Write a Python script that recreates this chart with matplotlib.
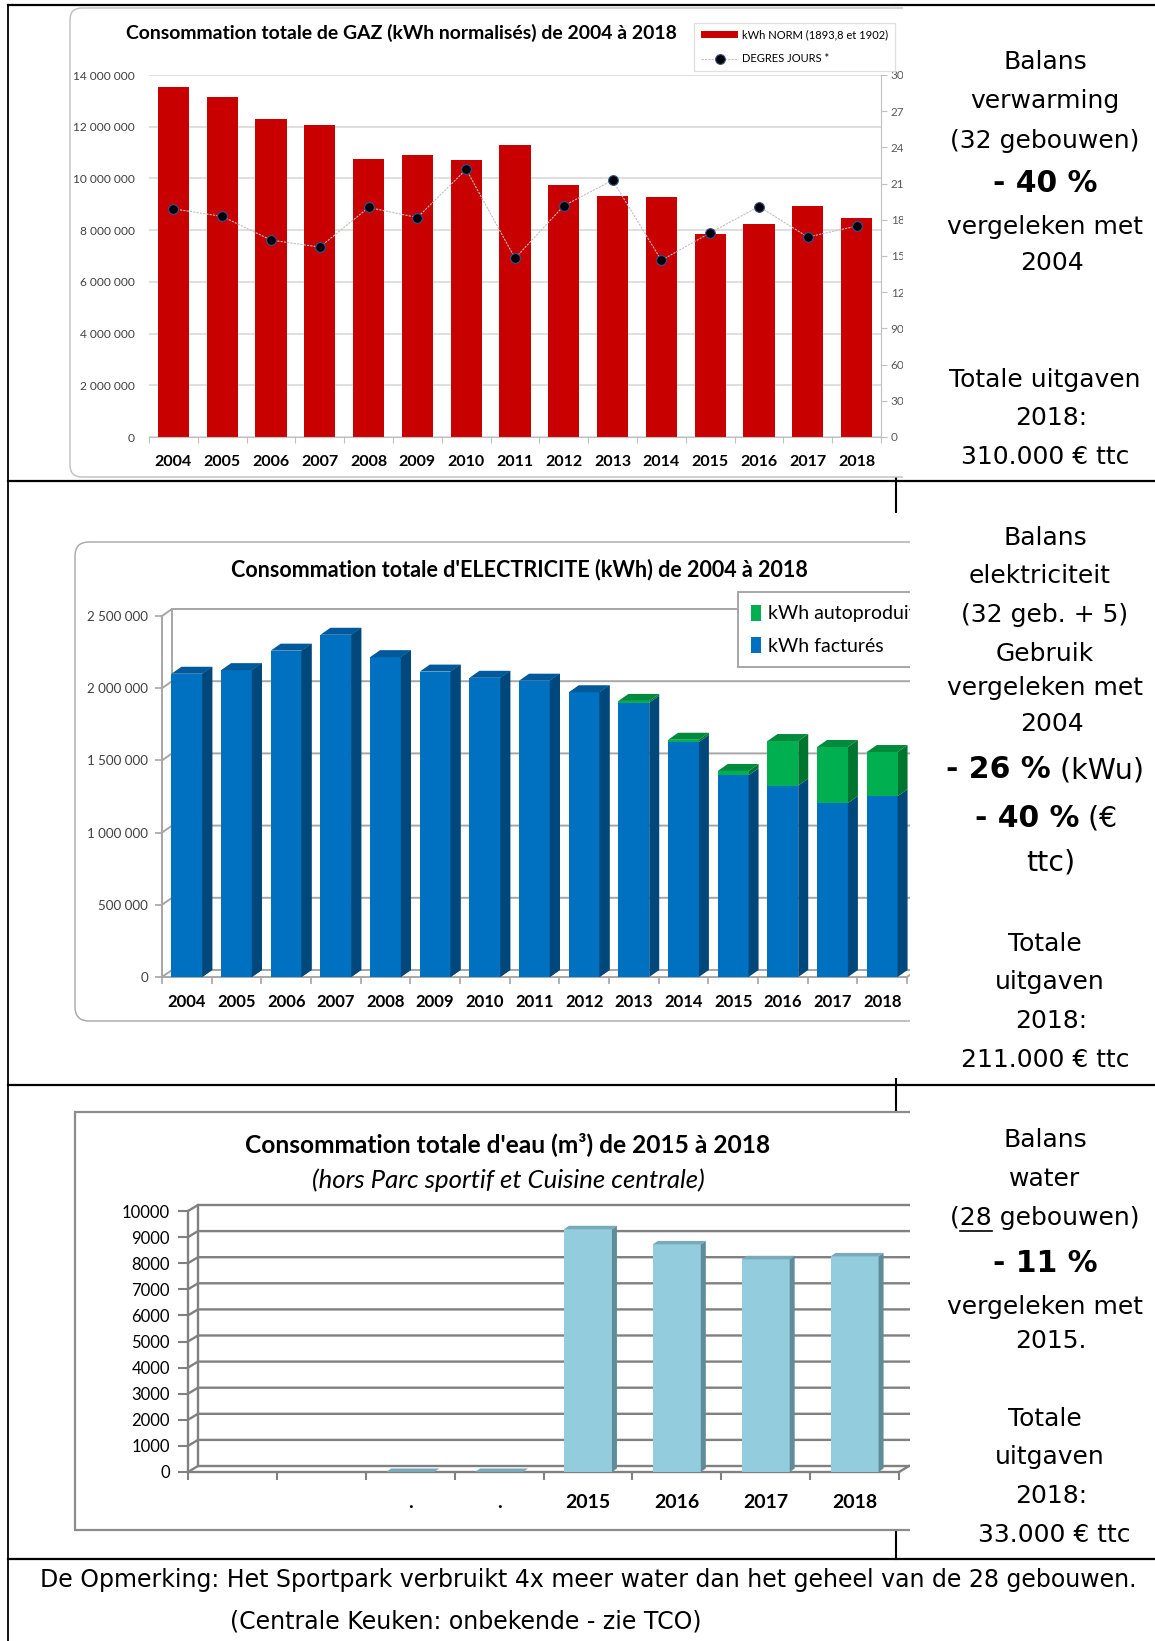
import numpy as np
import matplotlib
matplotlib.use("Agg")
import matplotlib.pyplot as plt
from matplotlib import font_manager
from matplotlib.lines import Line2D
from matplotlib.patches import FancyBboxPatch, Polygon, Rectangle
from matplotlib.transforms import Affine2D

# ---- data ------------------------------------------------------------
years = ["2004", "2005", "2006", "2007", "2008", "2009", "2010", "2011",
         "2012", "2013", "2014", "2015", "2016", "2017", "2018"]

gas_kwh = [13520000, 13150000, 12290000, 12060000, 10750000, 10900000, 10720000,
           11290000, 9760000, 9320000, 9300000, 7850000, 8230000, 8950000, 8480000]
degree_days = [1891, 1828, 1632, 1574, 1902, 1819, 2218, 1481, 1916, 2128,
               1464, 1693, 1910, 1657, 1748]
gas_ticks = [0, 2000000, 4000000, 6000000, 8000000, 10000000, 12000000, 14000000]
dj_ticks = [0, 300, 600, 900, 1200, 1500, 1800, 2100, 2400, 2700, 3000]

elec_billed = [2100000, 2125000, 2260000, 2370000, 2215000, 2115000, 2072000, 2052000,
               1972000, 1900000, 1628000, 1397000, 1326000, 1205000, 1252000]
elec_selfprod = [0, 0, 0, 0, 0, 0, 0, 0, 0, 12000, 15000, 30000, 308000, 388000, 306000]
elec_ticks = [0, 500000, 1000000, 1500000, 2000000, 2500000]

water_cats = ["", "", ".", ".", "2015", "2016", "2017", "2018"]
water_m3 = [np.nan, np.nan, 0, 0, 9300, 8720, 8150, 8260]
water_ticks = [0, 1000, 2000, 3000, 4000, 5000, 6000, 7000, 8000, 9000, 10000]

# ---- figure + pixel helpers (coords from top-left, in px) ------------
W, H = 1155, 1641
names = {f.name for f in font_manager.fontManager.ttflist}
CF = "Lato" if "Lato" in names else "DejaVu Sans"
TF = "DejaVu Sans"
plt.rcParams["font.family"] = [CF, "DejaVu Sans"]

fig = plt.figure(figsize=(W / 100, H / 100), dpi=100)
PX = Affine2D().scale(1 / W, -1 / H).translate(0, 1) + fig.transFigure
renderer = fig.canvas.get_renderer()


def px_axes(x0, y0, x1, y1):
    ax = fig.add_axes([x0 / W, 1 - y1 / H, (x1 - x0) / W, (y1 - y0) / H])
    ax.set_facecolor("none")
    return ax


def line(xs, ys, lw=1.5, color="black", z=6):
    fig.add_artist(Line2D(xs, ys, transform=PX, color=color, lw=lw, zorder=z))


def rect(x0, y0, x1, y1, **kw):
    fig.add_artist(Rectangle((x0, y0), x1 - x0, y1 - y0, transform=PX, **kw))


def txt(x, y, s, **kw):
    kw.setdefault("ha", "center")
    kw.setdefault("va", "center")
    return fig.text(x, y, s, transform=PX, **kw)


def fit(t, width):
    w = t.get_window_extent(renderer).width
    t.set_fontsize(t.get_fontsize() * width / w)
    return t


def width_of(s, **kw):
    t = fig.text(0, 0, s, **kw)
    w = t.get_window_extent(renderer).width
    t.remove()
    return w


def spaced(v):
    return f"{int(v):,}".replace(",", " ")


def faces(ax, xs, bottoms, heights, width, ddx, ddy, side, top, tops=True):
    for x, b, h in zip(xs, bottoms, heights):
        if np.isnan(h):
            continue
        x1 = x + width / 2
        x0 = x - width / 2
        ax.add_patch(Polygon([(x1, b), (x1 + ddx, b + ddy), (x1 + ddx, b + h + ddy), (x1, b + h)],
                             facecolor=side, edgecolor="none", zorder=3, clip_on=False))
        if tops:
            ax.add_patch(Polygon([(x0, b + h), (x0 + ddx, b + h + ddy), (x1 + ddx, b + h + ddy), (x1, b + h)],
                                 facecolor=top, edgecolor="none", zorder=3, clip_on=False))


def back_wall(ax, ticks, ddx, ddy, color, lw):
    xa, xb = ax.get_xlim()
    for v in ticks:
        ax.plot([xa, xa + ddx, xb + ddx], [v, v + ddy, v + ddy], color=color, lw=lw,
                zorder=1, clip_on=False, solid_joinstyle="miter")
    ax.plot([xa + ddx] * 2, [ticks[0] + ddy, ticks[-1] + ddy], color=color, lw=lw, zorder=1, clip_on=False)
    ax.plot([xb, xb + ddx], [0, ddy], color=color, lw=lw, zorder=1, clip_on=False)


# ---- table background: divider under chart images -------------------
line([896, 896], [5, 1559], lw=1.5, z=-5)
for box in [(62, 6, 903, 476), (62, 513, 910, 1078), (62, 1111, 910, 1531)]:
    rect(*box, facecolor="white", edgecolor="none", zorder=-4)

fig.add_artist(FancyBboxPatch((70, 8), 900, 469, boxstyle="round,pad=0,rounding_size=12",
                              transform=PX, facecolor="white", edgecolor="#BFBFBF", lw=1.0, zorder=-3))
fig.add_artist(FancyBboxPatch((75, 542), 900, 479, boxstyle="round,pad=0,rounding_size=14",
                              transform=PX, facecolor="white", edgecolor="#A6A6A6", lw=1.0, zorder=-3))
rect(75, 1112, 975, 1530, facecolor="white", edgecolor="#8C8C8C", lw=1.6, zorder=-3)

# ---- gas chart -------------------------------------------------------
gx = np.arange(len(years))
ax = px_axes(149, 75, 881, 437)
gas_bars = ax.bar(gx, gas_kwh, width=0.64, color="#C80000", zorder=2)
ax.set_xlim(-0.5, len(years) - 0.5)
ax.set_ylim(gas_ticks[0], gas_ticks[-1])
ax.set_yticks(gas_ticks, [spaced(v) for v in gas_ticks])
ax.yaxis.grid(True, color="#D9D9D9", lw=1.2)
ax.set_axisbelow(True)
ax.set_xticks(np.arange(-0.5, len(years)), [])
ax.set_xticks(gx, years, minor=True)
ax.tick_params(axis="x", which="major", length=4, color="#BFBFBF")
ax.tick_params(axis="x", which="minor", length=0, pad=13, labelsize=11.5)
for lbl in ax.get_xticklabels(minor=True):
    lbl.set_fontweight("bold")
ax.tick_params(axis="y", length=0, pad=10, labelsize=8.6, labelcolor="#404040")
for s in ("top", "right", "left"):
    ax.spines[s].set_visible(False)
ax.spines["bottom"].set_color("#BFBFBF")

ax2 = ax.twinx()
dj_line, = ax2.plot(gx, degree_days, color="#C0C0C0", lw=0.8, ls=(0, (2, 1)), marker="o",
                    ms=7, mfc="black", mec="#2F5597", mew=0.8, zorder=3)
ax2.set_ylim(dj_ticks[0], dj_ticks[-1])
ax2.set_yticks(dj_ticks, [str(v) for v in dj_ticks])
ax2.tick_params(axis="y", length=4, color="#BFBFBF", labelsize=8.5, labelcolor="#595959", pad=3)
for s in ("top", "left", "bottom"):
    ax2.spines[s].set_visible(False)
ax2.spines["right"].set_color("#BFBFBF")
ax2.legend([gas_bars, dj_line], ["kWh NORM (1893,8 et 1902)", "DEGRES JOURS *"],
           loc="upper left", bbox_to_anchor=(694, 23), bbox_transform=PX, fontsize=8,
           frameon=True, fancybox=False, edgecolor="#D9D9D9", handlelength=3.4,
           handleheight=0.55, handletextpad=0.3, labelspacing=1.15, borderpad=0.6, borderaxespad=0)
fit(txt(401, 33, "Consommation totale de GAZ (kWh normalisés) de 2004 à 2018",
        fontsize=12, fontweight="bold"), 548)

# ---- electricity chart -----------------------------------------------
ex = np.arange(len(years))
ax = px_axes(162, 616, 907, 977)
ax.set_xlim(-0.5, len(years) - 0.5)
ax.set_ylim(elec_ticks[0], elec_ticks[-1])
eddx = 10 * len(years) / 745
eddy = 7 * elec_ticks[-1] / 361
back_wall(ax, elec_ticks, eddx, eddy, "#A6A6A6", 1.4)
ew = 0.62
billed = ax.bar(ex, elec_billed, width=ew, color="#0070C0", zorder=3, clip_on=False)
selfp = ax.bar(ex, elec_selfprod, bottom=elec_billed, width=ew, color="#00B050", zorder=4, clip_on=False)
faces(ax, ex, [0] * len(ex), elec_billed, ew, eddx, eddy, "#00487C", "#00599A", tops=False)
has_self = np.array([v > 0 for v in elec_selfprod])
faces(ax, ex[~has_self], [0] * int((~has_self).sum()),
      [b for b, h in zip(elec_billed, has_self) if not h], ew, eddx, eddy, "#00487C", "#00599A")
faces(ax, ex[has_self], [b for b, h in zip(elec_billed, has_self) if h],
      [s for s in elec_selfprod if s > 0], ew, eddx, eddy, "#00752F", "#008A3C")
for p in ax.patches:
    p.set_clip_on(False)
ax.set_yticks(elec_ticks, [spaced(v) for v in elec_ticks])
ax.set_xticks(np.arange(-0.5, len(years)), [])
ax.set_xticks(ex, years, minor=True)
ax.tick_params(axis="x", which="major", length=5, color="#A6A6A6", width=1.2)
ax.tick_params(axis="x", which="minor", length=0, pad=12, labelsize=12)
for lbl in ax.get_xticklabels(minor=True):
    lbl.set_fontweight("bold")
ax.tick_params(axis="y", length=5, color="#A6A6A6", width=1.2, pad=5, labelsize=9.6, labelcolor="#404040")
for s in ("top", "right"):
    ax.spines[s].set_visible(False)
for s in ("left", "bottom"):
    ax.spines[s].set_color("#A6A6A6")
    ax.spines[s].set_linewidth(1.4)
ax.legend([selfp, billed], ["kWh autoproduit", "kWh facturés"], loc="upper left",
          bbox_to_anchor=(738, 592), bbox_transform=PX, fontsize=14, frameon=True,
          fancybox=False, edgecolor="#A6A6A6", framealpha=1, handlelength=0.55,
          handleheight=0.9, handletextpad=0.35, labelspacing=0.75, borderpad=0.65,
          borderaxespad=0)
ax.get_legend().get_frame().set_linewidth(1.4)
fit(txt(519, 570, "Consommation totale d'ELECTRICITE (kWh) de 2004 à 2018",
        fontsize=13, fontweight="bold"), 577)

# ---- water chart -----------------------------------------------------
wx = np.arange(len(water_cats))
ax = px_axes(188, 1211, 899, 1472)
ax.set_xlim(-0.5, len(water_cats) - 0.5)
ax.set_ylim(water_ticks[0], water_ticks[-1])
wddx = 10 * len(water_cats) / 711
wddy = 6 * water_ticks[-1] / 261
back_wall(ax, water_ticks, wddx, wddy, "#808080", 1.7)
ww = 0.54
ax.bar(wx, water_m3, width=ww, color="#93CDDD", zorder=3, clip_on=False)
faces(ax, wx, [0] * len(wx), water_m3, ww, 5 * len(water_cats) / 711,
      3.5 * water_ticks[-1] / 261, "#5F8C99", "#79AAB8")
for p in ax.patches:
    p.set_clip_on(False)
ax.set_yticks(water_ticks, [str(v) for v in water_ticks])
ax.set_xticks(np.arange(-0.5, len(water_cats)), [])
ax.set_xticks(wx, water_cats, minor=True)
ax.tick_params(axis="x", which="major", length=6, color="#808080", width=1.5)
ax.tick_params(axis="x", which="minor", length=0, pad=16, labelsize=14)
for lbl in ax.get_xticklabels(minor=True):
    lbl.set_fontweight("bold")
ax.tick_params(axis="y", length=7, color="#808080", width=1.5, pad=6, labelsize=12)
for s in ("top", "right"):
    ax.spines[s].set_visible(False)
for s in ("left", "bottom"):
    ax.spines[s].set_color("#808080")
    ax.spines[s].set_linewidth(1.7)
fit(txt(508, 1144, "Consommation totale d'eau (m³) de 2015 à 2018", fontsize=14,
        fontweight="bold"), 528)
fit(txt(508, 1180, "(hors Parc sportif et Cuisine centrale)", fontsize=13,
        fontstyle="italic"), 392)

# ---- right column covers + table lines -------------------------------
rect(903, 6, 1155, 480, facecolor="white", edgecolor="none", zorder=5)
rect(910, 482, 1155, 1084, facecolor="white", edgecolor="none", zorder=5)
rect(910, 1086, 1155, 1558, facecolor="white", edgecolor="none", zorder=5)
for y in (5, 481, 1085, 1559):
    line([8, 1155], [y, y], lw=1.6)
line([8, 8], [5, 1641], lw=1.3)

NS, BS, MS = 18, 21.5, 20.5


def col(y, s, x=1045, size=NS, weight="normal"):
    return txt(x, y, s, fontsize=size, fontweight=weight, family=TF, zorder=7)


def mixed(y, parts, cx=1045):
    ws = [width_of(s, fontsize=sz, fontweight=wt, family=TF) for s, sz, wt in parts]
    x = cx - sum(ws) / 2
    for (s, sz, wt), w in zip(parts, ws):
        txt(x, y, s, ha="left", va="baseline", fontsize=sz, fontweight=wt, family=TF, zorder=7)
        x += w


# row 1 - gas
col(62, "Balans")
col(101, "verwarming")
col(141, "(32 gebouwen)")
col(184, "- 40 %", size=BS, weight="bold")
col(227, "vergeleken met")
col(263, "2004", x=1052)
col(380, "Totale uitgaven")
col(418, "2018:", x=1051)
col(457, "310.000 € ttc")

# row 2 - electricity
col(538, "Balans")
col(576, "elektriciteit", x=1040)
col(615, "(32 geb. + 5)")
col(654, "Gebruik")
col(688, "vergeleken met")
col(724, "2004", x=1052)
mixed(778, [("- 26 %", BS, "bold"), (" (kWu)", MS, "normal")])
mixed(827, [("- 40 %", BS, "bold"), (" (€", MS, "normal")], cx=1046)
col(863, "ttc)", x=1051, size=MS)
col(944, "Totale")
col(982, "uitgaven", x=1050)
col(1021, "2018:", x=1051)
col(1060, "211.000 € ttc")

# row 3 - water
col(1140, "Balans")
col(1179, "water")
col(1218, "(28 gebouwen)")
w_all = width_of("(28 gebouwen)", fontsize=NS, family=TF)
w_open = width_of("(", fontsize=NS, family=TF)
w_28 = width_of("(28", fontsize=NS, family=TF)
x_start = 1045 - w_all / 2
line([x_start + w_open, x_start + w_28], [1231, 1231], lw=1.2, z=7)
col(1263, "- 11 %", size=BS, weight="bold")
col(1307, "vergeleken met")
col(1341, "2015.", x=1051)
col(1419, "Totale")
col(1457, "uitgaven", x=1050)
col(1496, "2018:", x=1051)
col(1535, "33.000 € ttc", x=1054)

# row 4 - remark
foot = fit(txt(588, 1580, "De Opmerking: Het Sportpark verbruikt 4x meer water dan het geheel van de 28 gebouwen.",
               fontsize=16, family=TF, zorder=7), 1097)
txt(466, 1622, "(Centrale Keuken: onbekende - zie TCO)", fontsize=foot.get_fontsize(),
    family=TF, zorder=7)

fig.savefig("out.png", dpi=100, facecolor="white")
